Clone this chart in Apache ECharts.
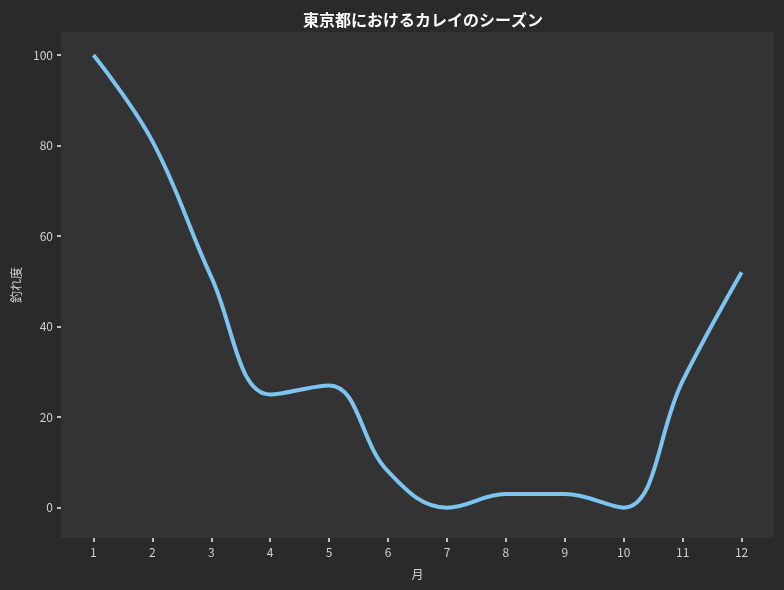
<!DOCTYPE html>
<html>
<head>
<meta charset="utf-8">
<script src="https://cdn.jsdelivr.net/npm/echarts@6/dist/echarts.min.js"></script>
<style>
html,body{margin:0;padding:0;background:#2a2a2a;}
#c{width:784px;height:590px;}
</style>
</head>
<body>
<div id="c"></div>
<script>
const months = [1,2,3,4,5,6,7,8,9,10,11,12];
const catchScore = [100, 81, 51, 25, 27, 8, 0, 3, 3, 0, 28, 52];
const yTicks = [0, 20, 40, 60, 80, 100];
const titleText = '東京都におけるカレイのシーズン';
const xName = '月';
const yName = '釣れ度';

const font = '"Noto Sans CJK JP", "Noto Sans", sans-serif';
const chart = echarts.init(document.getElementById('c'));
chart.setOption({
  backgroundColor: '#2a2a2a',
  animation: false,
  title: {
    text: titleText,
    left: 418, top: 7, textAlign: 'center',
    textStyle: {color: '#ffffff', fontSize: 16, fontWeight: 'bold', fontFamily: font}
  },
  grid: {left: 61, right: 10, top: 32, bottom: 52, show: true, backgroundColor: '#333333', borderWidth: 0},
  xAxis: {
    type: 'value', min: 0.45, max: 12.55, position: 'bottom',
    name: xName, nameLocation: 'middle', nameGap: 30,
    nameTextStyle: {color: '#d0d0d0', fontSize: 12, fontFamily: font},
    axisLine: {show: false, onZero: false},
    splitLine: {show: false},
    axisTick: {show: true, length: 4, customValues: months, lineStyle: {color: '#f0f0f0', width: 1.5}},
    axisLabel: {customValues: months, color: '#d0d0d0', fontSize: 12, margin: 8, fontFamily: font}
  },
  yAxis: {
    type: 'value', min: -6.7, max: 105.1, position: 'left',
    name: yName, nameLocation: 'middle', nameGap: 37, nameRotate: 90,
    nameTextStyle: {color: '#d0d0d0', fontSize: 12, fontFamily: font},
    axisLine: {show: false, onZero: false},
    splitLine: {show: false},
    axisTick: {show: true, length: 4, customValues: yTicks, lineStyle: {color: '#f0f0f0', width: 1.5}},
    axisLabel: {customValues: yTicks, color: '#d0d0d0', fontSize: 12, margin: 8, fontFamily: font}
  },
  series: [{
    type: 'line',
    data: months.map((m, i) => [m, catchScore[i]]),
    smooth: 0.4,
    symbol: 'none',
    lineStyle: {color: '#7cc4f2', width: 4}
  }]
});
</script>
</body>
</html>
